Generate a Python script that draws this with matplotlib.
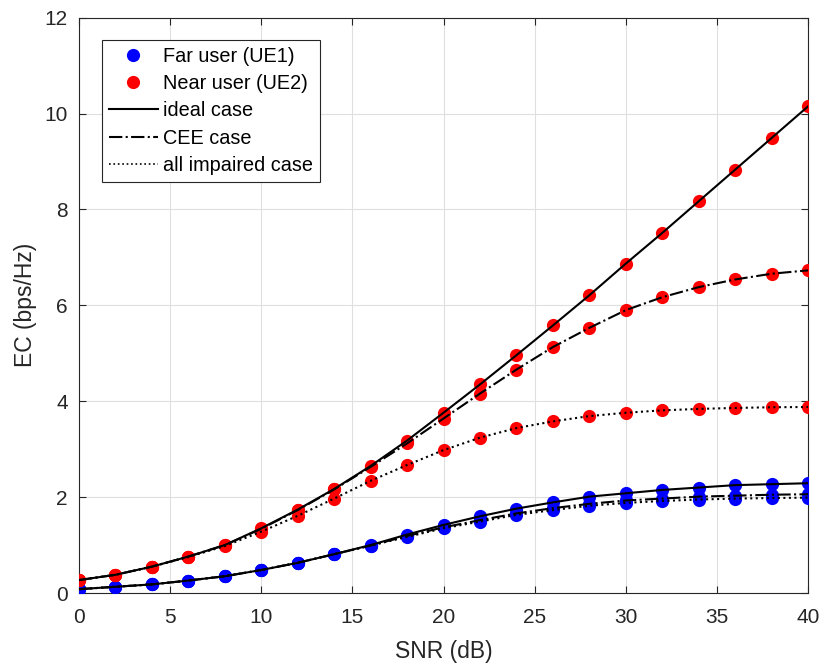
import matplotlib
matplotlib.use("Agg")
import matplotlib.pyplot as plt
from matplotlib.lines import Line2D

plt.rcParams['font.family'] = ['Liberation Sans', 'DejaVu Sans']

snr = [0, 2, 4, 6, 8, 10, 12, 14, 16, 18, 20, 22, 24, 26, 28, 30, 32, 34, 36, 38, 40]

# near user (UE2)
ue2_ideal = [0.27, 0.38, 0.55, 0.76, 1.00, 1.35, 1.74, 2.17, 2.65, 3.18, 3.76, 4.35, 4.96, 5.58, 6.21, 6.87, 7.51, 8.17, 8.83, 9.49, 10.15]
ue2_cee = [0.27, 0.38, 0.55, 0.76, 1.00, 1.34, 1.73, 2.16, 2.63, 3.12, 3.64, 4.16, 4.66, 5.13, 5.53, 5.90, 6.17, 6.38, 6.54, 6.66, 6.73]
ue2_imp = [0.27, 0.38, 0.55, 0.75, 0.98, 1.28, 1.61, 1.97, 2.34, 2.67, 2.98, 3.24, 3.44, 3.58, 3.69, 3.76, 3.81, 3.84, 3.86, 3.875, 3.88]

# far user (UE1)
ue1_ideal = [0.08, 0.13, 0.18, 0.26, 0.35, 0.48, 0.63, 0.81, 1.00, 1.22, 1.42, 1.60, 1.76, 1.89, 2.01, 2.08, 2.15, 2.20, 2.25, 2.27, 2.29]
ue1_cee = [0.08, 0.13, 0.18, 0.26, 0.35, 0.48, 0.63, 0.81, 0.99, 1.19, 1.37, 1.52, 1.66, 1.77, 1.86, 1.93, 1.97, 2.01, 2.03, 2.05, 2.06]
ue1_imp = [0.08, 0.13, 0.18, 0.26, 0.35, 0.48, 0.63, 0.81, 0.99, 1.17, 1.35, 1.49, 1.63, 1.73, 1.82, 1.88, 1.92, 1.95, 1.97, 1.98, 1.99]

styles = ['-', '-.', ':']

fig = plt.figure(figsize=(8.25, 6.66), dpi=100)
ax = fig.add_axes([0.0958, 0.1096, 0.8836, 0.8638])

ms = 9.5
for curve in [ue1_ideal, ue1_cee, ue1_imp]:
    ax.plot(snr, curve, 'o', color='#0000ff', markersize=ms, markeredgewidth=0, zorder=3)
for curve in [ue2_ideal, ue2_cee, ue2_imp]:
    ax.plot(snr, curve, 'o', color='#ff0000', markersize=ms, markeredgewidth=0, zorder=3)

for curve, ls in zip([ue1_ideal, ue1_cee, ue1_imp], styles):
    ax.plot(snr, curve, color='black', linestyle=ls, linewidth=1.5, zorder=4)
for curve, ls in zip([ue2_ideal, ue2_cee, ue2_imp], styles):
    ax.plot(snr, curve, color='black', linestyle=ls, linewidth=1.5, zorder=4)

ax.set_xlim(0, 40)
ax.set_ylim(0, 12)
ax.set_xticks(range(0, 41, 5))
ax.set_yticks(range(0, 13, 2))
ax.grid(True, color='#dfdfdf', linewidth=0.8)
ax.set_axisbelow(True)
for s in ax.spines.values():
    s.set_color('#262626')
    s.set_linewidth(0.8)
ax.tick_params(labelsize=15, colors='#262626', direction='in', length=5, width=0.8,
               top=True, right=True)
ax.tick_params(axis='x', pad=11)
ax.tick_params(axis='y', pad=8)
ax.set_xlabel('SNR (dB)', fontsize=16.5, color='#262626', labelpad=9)
ax.set_ylabel('EC (bps/Hz)', fontsize=16.5, color='#262626', labelpad=5.5)

handles = [
    Line2D([], [], marker='o', color='#0000ff', linestyle='none', markersize=ms, markeredgewidth=0),
    Line2D([], [], marker='o', color='#ff0000', linestyle='none', markersize=ms, markeredgewidth=0),
    Line2D([], [], color='black', linestyle='-', linewidth=1.5),
    Line2D([], [], color='black', linestyle='-.', linewidth=1.5),
    Line2D([], [], color='black', linestyle=':', linewidth=1.2),
]
labels = ['Far user (UE1)', 'Near user (UE2)', 'ideal case', 'CEE case', 'all impaired case']
leg = ax.legend(handles, labels, loc='upper left', bbox_to_anchor=(0.0316, 0.961), fontsize=14.3,
                fancybox=False, framealpha=1, edgecolor='#262626', handlelength=2.5,
                handletextpad=0.25, labelspacing=0.42, borderpad=0.33, borderaxespad=0)
leg.get_frame().set_linewidth(0.8)

fig.savefig('out.png', dpi=100)
